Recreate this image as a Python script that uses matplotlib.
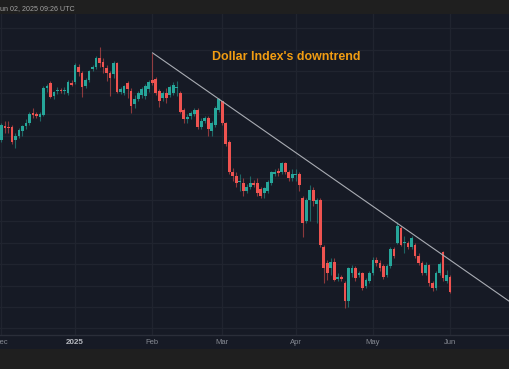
import numpy as np
import pandas as pd
import matplotlib
matplotlib.use('Agg')
import matplotlib.pyplot as plt
from matplotlib.patches import Rectangle

# Trading days shown on the chart (no bar on Dec 25 and Jan 1)
fechas = pd.bdate_range('2024-12-02', '2025-06-02')
fechas = fechas[~fechas.isin(pd.to_datetime(['2024-12-25', '2025-01-01']))]

# Daily OHLC (Dollar Index)
aperturas = [105.8, 106.45, 106.4, 106.4, 105.8, 106.0, 106.2, 106.45, 106.6, 107.05,
             107.0, 106.85, 106.95, 108.2, 108.47, 107.85, 108.08, 108.13, 108.08, 108.0,
             108.45, 108.5, 109.2, 108.9, 108.3, 108.6, 109.1, 109.2, 109.6, 109.45,
             109.15, 108.9, 108.85, 109.4, 108.05, 108.0, 108.45, 108.1, 107.45, 107.7,
             107.9, 107.85, 108.15, 108.6, 108.65, 108.1, 107.75, 108.0, 107.9, 108.0,
             108.2, 108.0, 107.2, 106.75, 106.9, 107.0, 107.2, 106.4, 106.7, 106.8,
             106.2, 106.5, 107.2, 107.6, 106.6, 105.7, 104.3, 104.1, 103.85, 103.8,
             103.4, 103.6, 103.8, 103.8, 103.5, 103.3, 103.4, 103.8, 104.2, 104.35,
             104.3, 104.7, 104.3, 104.0, 104.18, 104.2, 103.1, 102.0, 103.0, 103.45,
             102.8, 103.0, 100.8, 100.05, 99.8, 100.1, 99.3, 99.38, 99.1, 98.3,
             99.6, 99.8, 99.5, 99.6, 99.0, 99.2, 99.6, 100.2, 100.05, 99.9,
             99.5, 99.9, 100.7, 101.0, 101.7, 100.98, 101.0, 100.8, 100.9, 100.4,
             100.05, 99.6, 99.95, 99.1, 98.9, 99.6, 100.55, 99.2, 99.4]
maximos = [106.6, 106.7, 106.7, 106.5, 106.1, 106.35, 106.5, 106.75, 107.1, 107.3,
           107.1, 107.1, 108.3, 108.4, 108.55, 108.1, 108.25, 108.2, 108.25, 108.6,
           108.6, 109.4, 109.35, 109.0, 108.7, 109.05, 109.3, 109.7, 110.15, 109.6,
           109.3, 109.0, 109.5, 109.45, 108.25, 108.35, 108.55, 108.2, 107.9, 108.1,
           108.25, 108.4, 108.6, 109.87, 108.75, 108.15, 108.1, 108.2, 108.35, 108.5,
           108.55, 108.1, 107.3, 107.0, 107.15, 107.3, 107.3, 106.8, 106.9, 106.9,
           106.7, 107.4, 107.75, 107.62, 106.65, 105.8, 104.5, 104.3, 104.2, 104.0,
           103.75, 104.1, 103.95, 104.0, 103.6, 103.6, 103.95, 104.35, 104.45, 104.5,
           104.75, 104.75, 104.4, 104.45, 104.45, 104.3, 103.2, 103.1, 103.7, 103.6,
           103.1, 103.1, 100.9, 100.2, 100.3, 100.3, 99.6, 99.5, 99.2, 99.85,
           99.95, 99.9, 99.7, 99.65, 99.35, 99.7, 100.35, 100.35, 100.2, 100.0,
           100.0, 100.8, 100.8, 101.95, 101.8, 101.3, 101.1, 101.3, 101.0, 100.5,
           100.15, 100.1, 100.0, 99.2, 99.7, 100.1, 100.6, 99.75, 99.5]
minimos = [105.7, 106.1, 106.1, 105.6, 105.4, 105.9, 106.0, 106.3, 106.5, 106.8,
           106.8, 106.7, 106.9, 108.05, 107.75, 107.7, 107.95, 108.0, 107.95, 107.9,
           108.3, 108.4, 108.8, 107.8, 108.2, 108.5, 109.0, 109.1, 109.2, 108.9,
           108.55, 107.85, 108.7, 108.0, 107.95, 107.9, 107.75, 107.05, 107.3, 107.6,
           107.75, 107.7, 108.05, 108.35, 107.9, 107.35, 107.6, 107.5, 107.8, 107.9,
           107.85, 107.05, 106.6, 106.6, 106.75, 106.9, 106.3, 106.3, 106.6, 106.0,
           106.0, 106.4, 107.1, 106.5, 105.5, 104.2, 103.9, 103.6, 103.4, 103.2,
           103.3, 103.5, 103.6, 103.2, 103.1, 103.1, 103.3, 103.7, 104.1, 104.1,
           104.2, 104.2, 103.9, 103.9, 103.9, 103.4, 101.27, 101.9, 102.0, 102.7,
           101.9, 100.8, 99.1, 99.25, 99.5, 99.2, 99.2, 99.2, 97.95, 98.0,
           99.4, 99.2, 99.4, 98.8, 98.9, 99.1, 99.5, 99.9, 99.7, 99.3,
           99.4, 99.8, 100.3, 100.95, 100.85, 100.5, 100.7, 100.7, 100.3, 99.95,
           99.5, 99.5, 99.0, 98.75, 98.8, 99.5, 99.2, 99.1, 98.65]
cierres = [106.5, 106.35, 106.35, 105.7, 106.0, 106.25, 106.45, 106.6, 107.0, 106.95,
           106.9, 107.0, 108.2, 108.3, 107.8, 108.05, 108.12, 108.08, 108.12, 108.5,
           108.35, 109.3, 108.95, 108.25, 108.6, 109.0, 109.2, 109.6, 109.4, 109.2,
           108.9, 108.7, 109.4, 108.05, 108.15, 108.3, 108.15, 107.4, 107.7, 108.0,
           108.15, 108.3, 108.5, 108.45, 108.0, 107.6, 108.0, 107.75, 108.25, 108.35,
           108.25, 107.1, 106.75, 106.85, 107.05, 107.2, 106.4, 106.7, 106.8, 106.3,
           106.6, 107.3, 107.7, 106.6, 105.6, 104.3, 104.1, 103.8, 103.9, 103.4,
           103.6, 103.8, 103.7, 103.3, 103.2, 103.55, 103.85, 104.3, 104.3, 104.25,
           104.7, 104.3, 104.0, 104.2, 104.22, 103.7, 101.9, 103.0, 103.45, 102.95,
           103.0, 100.9, 99.8, 99.6, 100.1, 99.25, 99.4, 99.32, 98.3, 99.8,
           99.8, 99.35, 99.6, 98.9, 99.25, 99.6, 100.2, 100.05, 99.8, 99.4,
           99.9, 100.7, 100.4, 101.8, 100.9, 101.02, 100.8, 101.2, 100.4, 100.05,
           99.6, 99.95, 99.1, 98.9, 99.6, 100.0, 99.35, 99.5, 98.7]

etiquetas_mes = ['Dec', '2025', 'Feb', 'Mar', 'Apr', 'May', 'Jun']

# Trend line anchors: Feb 3 high and May 12 high
linea_inicio = ('2025-02-03', 109.87)
linea_punto = ('2025-05-12', 101.9)

titulo = "Dollar Index's downtrend"
sello = 'un 02, 2025 09:26 UTC'

# Colores estilo TradingView oscuro
fondo_gris = '#1f1f1f'
fondo_graf = '#161a25'
color_rejilla = '#20242f'
verde = '#26a69a'
rojo = '#ef5350'

df = pd.DataFrame({'Open': aperturas, 'High': maximos, 'Low': minimos, 'Close': cierres},
                  index=fechas)
x = np.arange(len(df))

fig = plt.figure(figsize=(5.10, 3.69), dpi=100, facecolor=fondo_gris)
W, H = 510, 369

# Band under the chart that holds the month labels (drawn behind the axes)
fig.patches.append(Rectangle((0, 20 / H), 1, 14.5 / H, transform=fig.transFigure,
                             facecolor=fondo_graf, edgecolor='none', zorder=-5))

ax = fig.add_axes([0, (H - 334.5) / H, 1, (334.5 - 14) / H])
ax.set_facecolor(fondo_graf)

subida = df['Close'] >= df['Open']
colores = np.where(subida, verde, rojo)

# Wicks
ax.vlines(x, df['Low'], df['High'], colors=colores, linewidth=0.8, alpha=0.55, zorder=2)
# Bodies
cuerpo_base = np.minimum(df['Open'], df['Close'])
cuerpo_alto = np.maximum(np.abs(df['Close'] - df['Open']), 0.04)
ax.bar(x, cuerpo_alto, bottom=cuerpo_base, width=0.8, color=colores, linewidth=0, zorder=3)

# Trend line from the Feb 3 high, extended to the right edge
x_ini = fechas.get_loc(pd.Timestamp(linea_inicio[0]))
x_pt = fechas.get_loc(pd.Timestamp(linea_punto[0]))
pendiente = (linea_punto[1] - linea_inicio[1]) / (x_pt - x_ini)
x_fin = 150
ax.plot([x_ini, x_fin], [linea_inicio[1], linea_inicio[1] + pendiente * (x_fin - x_ini)],
        color='#a9acb3', linewidth=0.8, zorder=4, solid_capstyle='butt')

# Axes limits
ax.set_xlim(-0.4, 145.1)
ax.set_ylim(96.72, 111.67)

# Month ticks: first bar of each month
meses = fechas.to_period('M')
pos_mes = [0] + [i for i in range(1, len(fechas)) if meses[i] != meses[i - 1]]
ax.set_xticks(pos_mes)
ax.set_xticklabels(etiquetas_mes)
ax.set_yticks(np.arange(97, 112, 1))
ax.grid(True, color=color_rejilla, linewidth=1.0, zorder=0)
ax.set_axisbelow(True)
ax.tick_params(axis='x', length=0, pad=3.0, colors='#868a93', labelsize=5.5)
ax.tick_params(axis='y', left=False, labelleft=False)
for lbl in ax.get_xticklabels():
    lbl.set_family('Liberation Sans')
    if lbl.get_text() == '2025':
        lbl.set_fontweight('bold')
        lbl.set_color('#b6b9c0')
        lbl.set_fontsize(5.8)

for lado in ['top', 'left', 'right']:
    ax.spines[lado].set_visible(False)
ax.spines['bottom'].set_color('#2a2e39')
ax.spines['bottom'].set_linewidth(1.0)

# Texts
fig.text(212 / W, 1 - 60 / H, titulo, color='#f29d12', fontsize=8.9,
         fontweight='bold', family='Liberation Sans', va='baseline', ha='left')
fig.text(0, 1 - 10.5 / H, sello, color='#a3a3a3', fontsize=5.1,
         family='Liberation Sans', va='baseline', ha='left')

fig.savefig('out.png', dpi=100, facecolor=fondo_gris)
